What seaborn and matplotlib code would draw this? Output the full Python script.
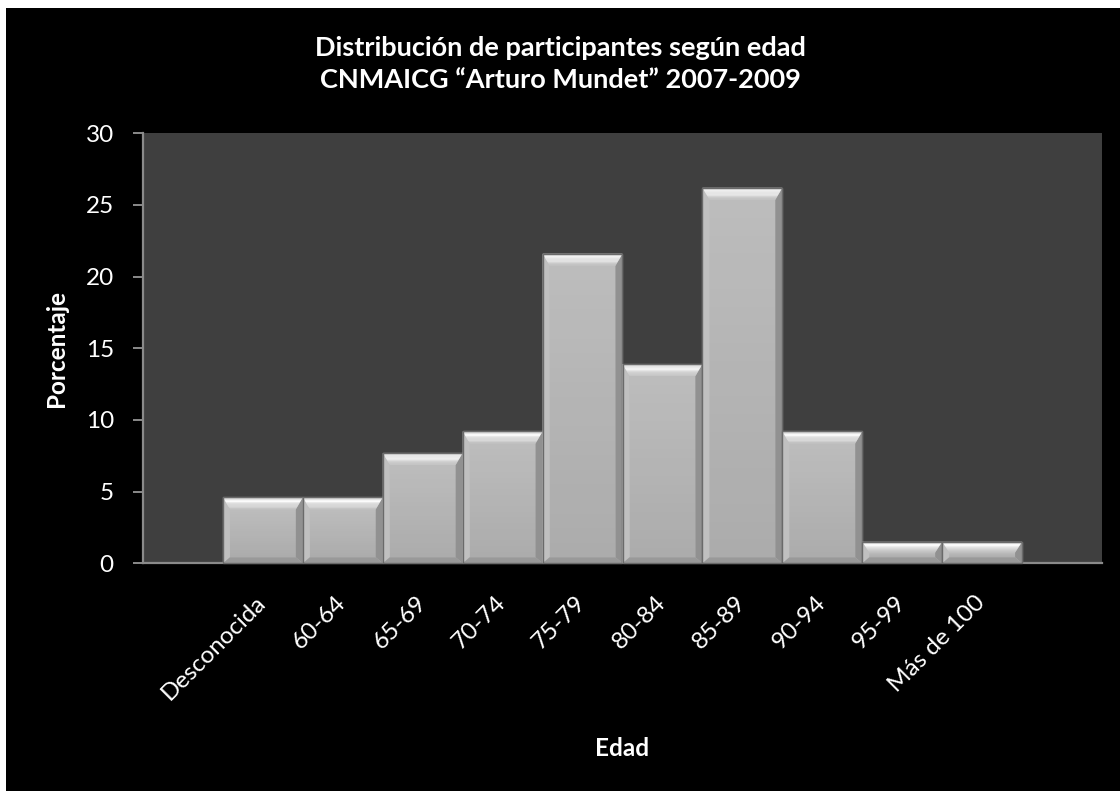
import numpy as np
import pandas as pd
import matplotlib
matplotlib.use("Agg")
import matplotlib.pyplot as plt
import seaborn as sns
from matplotlib.patches import Polygon, Rectangle
from matplotlib.transforms import IdentityTransform

# Distribución de participantes por grupo de edad (%)
categorias = ["Desconocida", "60-64", "65-69", "70-74", "75-79",
              "80-84", "85-89", "90-94", "95-99", "Más de 100"]
porcentaje = [4.6, 4.6, 7.7, 9.2, 21.6, 13.9, 26.2, 9.2, 1.5, 1.5]
y_ticks = [0, 5, 10, 15, 20, 25, 30]

titulo = "Distribución de participantes según edad\nCNMAICG \u201cArturo Mundet\u201d 2007-2009"

sns.set_theme(style="dark")
plt.rcParams["font.family"] = ["Lato", "DejaVu Sans"]

W, H = 1120, 791
fig = plt.figure(figsize=(W / 100, H / 100), dpi=100, facecolor="black")
ax = fig.add_axes([143 / W, 1 - 563.3 / H, (1102 - 143) / W, (563.3 - 133.3) / H])
ax.set_facecolor("#3f3f3f")

df = pd.DataFrame({"Edad": categorias, "Porcentaje": porcentaje})
sns.barplot(data=df, x="Edad", y="Porcentaje", order=categorias, color="#b7b7b7",
            saturation=1, width=1.0, edgecolor="#707070", linewidth=1.0, ax=ax)

ax.set_xlim(-1.5, len(categorias) + 0.5)
ax.set_ylim(0, 30)
ax.set_yticks(y_ticks)
ax.grid(False)

for side in ("top", "right"):
    ax.spines[side].set_visible(False)
for side in ("left", "bottom"):
    ax.spines[side].set_color("#8a8a8a")
    ax.spines[side].set_linewidth(1.6)

ax.tick_params(axis="y", left=True, length=7, width=1.4, color="#8a8a8a",
               labelcolor="white", labelsize=17.5, pad=14)
ax.tick_params(axis="x", bottom=False, length=0, labelcolor="white",
               labelsize=17.5, pad=26)
for lab in ax.get_xticklabels():
    lab.set_rotation(45)
    lab.set_ha("right")
    lab.set_va("center")
    lab.set_rotation_mode("anchor")

ax.set_ylabel("Porcentaje", color="white", fontsize=17.5, fontweight="bold")
ax.yaxis.set_label_coords((57 - 143) / (1102 - 143), 0.5)
ax.yaxis.label.set_va("center")
ax.set_xlabel("Edad", color="white", fontsize=17.5, fontweight="bold")
ax.xaxis.set_label_coords(0.5, (563.3 - 748) / (563.3 - 133.3))
ax.xaxis.label.set_va("center")

fig.text(0.5, 1 - 64 / H, titulo, ha="center", va="center", color="white",
         fontsize=19.5, fontweight="bold", linespacing=1.35)

# bevel effect on every bar, built from the bar geometry
fig.canvas.draw()
ident = IdentityTransform()


def mix(c1, c2, t):
    c1 = np.array(matplotlib.colors.to_rgb(c1))
    c2 = np.array(matplotlib.colors.to_rgb(c2))
    return tuple(c1 + (c2 - c1) * t)


def top_shade(f):
    # bright band a little below the upper edge, fading into the face
    if f < 0.3:
        return mix("#d4d4d4", "#ffffff", f / 0.3)
    return mix("#ffffff", "#c2c2c2", (f - 0.3) / 0.7)


for p in ax.patches:
    bb = p.get_window_extent()
    x0, y0, x1, y1 = bb.x0, bb.y0, bb.x1, bb.y1
    h = y1 - y0
    t, s, b = min(12, h * 0.5), 7, min(6, h * 0.3)
    # body gradient
    n = 20
    for i in range(n):
        ya = y0 + b + (h - t - b) * i / n
        yb = y0 + b + (h - t - b) * (i + 1) / n
        fig.add_artist(Polygon([(x0 + s, ya), (x1 - s, ya), (x1 - s, yb), (x0 + s, yb)],
                               closed=True, transform=ident, lw=0,
                               facecolor=mix("#acacac", "#bcbcbc", i / (n - 1))))
    # left / right faces
    fig.add_artist(Polygon([(x0, y1), (x0 + s, y1 - t), (x0 + s, y0 + b), (x0, y0)],
                           closed=True, transform=ident, lw=0, facecolor="#c0c0c0"))
    fig.add_artist(Polygon([(x1, y1), (x1, y0), (x1 - s, y0 + b), (x1 - s, y1 - t)],
                           closed=True, transform=ident, lw=0, facecolor="#919191"))
    # bottom face
    fig.add_artist(Polygon([(x0, y0), (x1, y0), (x1 - s, y0 + b), (x0 + s, y0 + b)],
                           closed=True, transform=ident, lw=0, facecolor="#999999"))
    # top face with light gradient
    m = 10
    for i in range(m):
        fa, fb = i / m, (i + 1) / m
        ya, yb = y1 - t * fa, y1 - t * fb
        xa0, xa1 = x0 + s * fa, x1 - s * fa
        xb0, xb1 = x0 + s * fb, x1 - s * fb
        fig.add_artist(Polygon([(xa0, ya), (xa1, ya), (xb1, yb), (xb0, yb)],
                               closed=True, transform=ident, lw=0,
                               facecolor=top_shade((fa + fb) / 2)))
    # outline
    fig.add_artist(Rectangle((x0, y0), x1 - x0, h, transform=ident, fill=False,
                             edgecolor="#6a6a6a", lw=1.0))

# white margin along top and left edges
fig.add_artist(Rectangle((0, 1 - 8 / H), 1, 8 / H, transform=fig.transFigure,
                         facecolor="white", lw=0))
fig.add_artist(Rectangle((0, 0), 6 / W, 1, transform=fig.transFigure,
                         facecolor="white", lw=0))

fig.savefig("out.png", dpi=100, facecolor="black")
